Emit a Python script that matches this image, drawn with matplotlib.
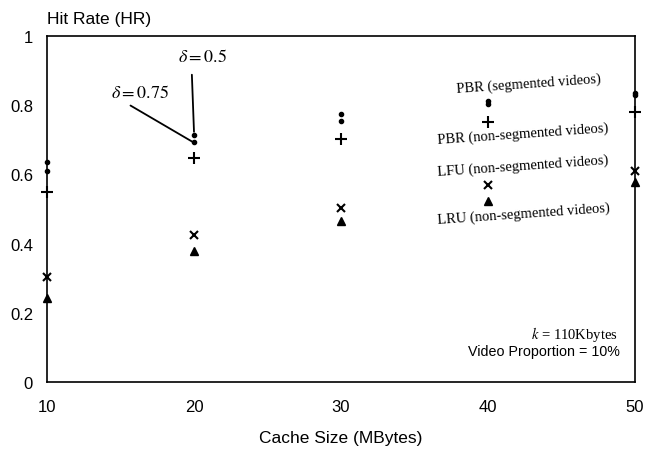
import matplotlib
matplotlib.use("Agg")
from matplotlib import pyplot as plt

plt.rcParams['mathtext.fontset'] = 'stix'

cache_sizes = [10, 20, 30, 40, 50]
pbr_seg_075 = [0.611, 0.694, 0.755, 0.804, 0.830]
pbr_seg_05 = [0.637, 0.715, 0.775, 0.813, 0.835]
pbr_nonseg = [0.548, 0.648, 0.703, 0.752, 0.781]
lfu_nonseg = [0.303, 0.424, 0.504, 0.568, 0.611]
lru_nonseg = [0.242, 0.380, 0.464, 0.524, 0.579]

y_ticks = [0, 0.2, 0.4, 0.6, 0.8, 1]
y_tick_labels = ['0', '0.2', '0.4', '0.6', '0.8', '1']

legend_labels = ['PBR (segmented videos)', 'PBR (non-segmented videos)',
                 'LFU (non-segmented videos)', 'LRU (non-segmented videos)']

sans = 'Liberation Sans'
serif = 'Liberation Serif'

fig = plt.figure(figsize=(6.48, 4.56), dpi=100)
ax = fig.add_axes([0.0725, 0.160, 0.9075, 0.759])

mk = dict(color='black', linestyle='none', clip_on=False)
ax.plot(cache_sizes, pbr_seg_05, marker='o', markersize=3, **mk)
ax.plot(cache_sizes, pbr_seg_075, marker='o', markersize=3, **mk)
ax.plot(cache_sizes, pbr_nonseg, marker='+', markersize=9, markeredgewidth=1.5, **mk)
ax.plot(cache_sizes, lfu_nonseg, marker='x', markersize=6, markeredgewidth=1.5, **mk)
ax.plot(cache_sizes, lru_nonseg, marker='^', markersize=5.5, **mk)

ax.set_xlim(10, 50)
ax.set_ylim(0, 1)
ax.set_xticks(cache_sizes)
ax.set_xticklabels([str(c) for c in cache_sizes], family=sans, fontsize=12)
ax.set_yticks(y_ticks)
ax.set_yticklabels(y_tick_labels, family=sans, fontsize=12)
ax.tick_params(axis='both', length=0)
ax.tick_params(axis='x', pad=12)
ax.tick_params(axis='y', pad=10)
for s in ax.spines.values():
    s.set_linewidth(1.2)

ax.set_xlabel('Cache Size (MBytes)', family=sans, fontsize=12.5, labelpad=12)
ax.text(0.0, 1.05, 'Hit Rate (HR)', transform=ax.transAxes, family=sans,
        fontsize=12.5, ha='left', va='center')

# delta annotations
ax.annotate(r'$\delta = 0.5$', xy=(20, pbr_seg_05[1] + 0.008), xytext=(20.6, 0.942),
            fontsize=13, ha='center', va='center',
            arrowprops=dict(arrowstyle='-', color='black', lw=1.3,
                            shrinkA=5, shrinkB=0, relpos=(0.27, 0)))
ax.annotate(r'$\delta = 0.75$', xy=(19.9, pbr_seg_075[1]), xytext=(16.3, 0.839),
            fontsize=13, ha='center', va='center',
            arrowprops=dict(arrowstyle='-', color='black', lw=1.3,
                            shrinkA=3, shrinkB=0, relpos=(0.2, 0)))

# legend-like labels next to x=40 points
label_pos = [(42.8, 0.862), (42.4, 0.718), (42.4, 0.625), (42.4, 0.487)]
for lab, (lx, ly) in zip(legend_labels, label_pos):
    ax.text(lx, ly, lab, family=serif, fontsize=10.5, ha='center', va='center',
            rotation=4, rotation_mode='anchor')

ax.text(48.84, 0.141, r'$k$ = 110Kbytes', family=serif, fontsize=10.5,
        ha='right', va='center')
ax.text(48.98, 0.089, 'Video Proportion = 10%', family=sans, fontsize=10.3,
        ha='right', va='center')

fig.savefig('out.png', dpi=100)
